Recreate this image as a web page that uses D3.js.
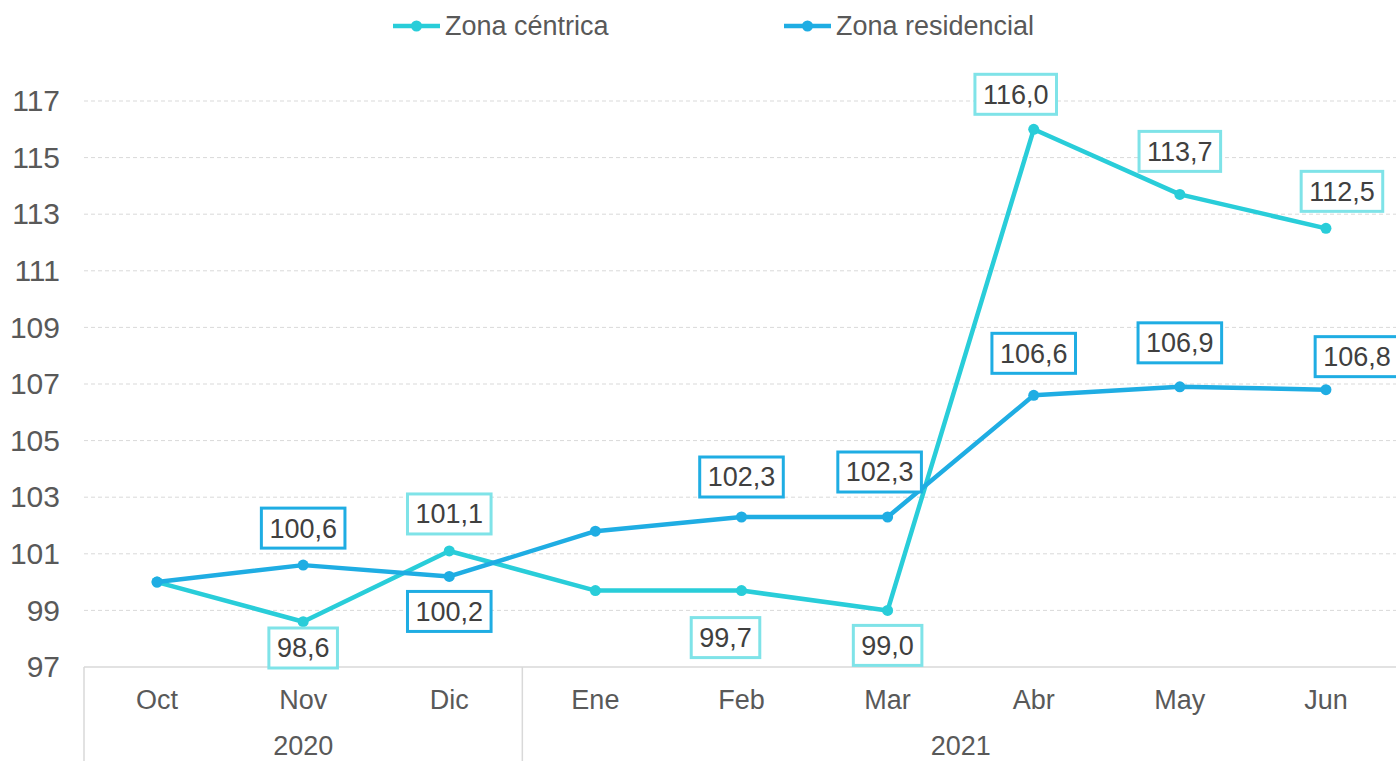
<!DOCTYPE html>
<html lang="es">
<head>
<meta charset="utf-8">
<script src="https://d3js.org/d3.v7.min.js"></script>
<style>
  body { margin: 0; background: #fff; }
  text { font-family: "Liberation Sans", Arial, sans-serif; }
</style>
</head>
<body>
<svg id="chart" width="1396" height="761"></svg>
<script>
// data
const months = ["Oct", "Nov", "Dic", "Ene", "Feb", "Mar", "Abr", "May", "Jun"];
const years = [
  {label: "2020", first: "Oct", last: "Dic"},
  {label: "2021", first: "Ene", last: "Jun"}
];
const centrica    = [100.0, 98.6, 101.1, 99.7, 99.7, 99.0, 116.0, 113.7, 112.5];
const residencial = [100.0, 100.6, 100.2, 101.8, 102.3, 102.3, 106.6, 106.9, 106.8];
// where each value label sits: "a" above, "b" below, null = no label
const centricaPos    = [null, "b", "a", null, "b", "b", "a", "a", "a"];
const residencialPos = [null, "a", "b", null, "a", "a", "a", "a", "a"];
const yTicks = [97, 99, 101, 103, 105, 107, 109, 111, 113, 115, 117];

// hand moved labels (as in the original), [dx, dy]
const nudge = {
  "c-Feb": [-16, 12], "c-Abr": [-18, 2], "c-May": [0, -6], "c-Jun": [16, 0],
  "r-Feb": [0, -3], "r-Mar": [-8, -8], "r-Abr": [0, -5], "r-May": [0, -7], "r-Jun": [31, 4]
};

const series = [
  {key: "c", name: "Zona céntrica", values: centrica, pos: centricaPos, color: "#29cdd9", box: "#7fe3e8"},
  {key: "r", name: "Zona residencial", values: residencial, pos: residencialPos, color: "#1fade3", box: "#1fade3"}
];

const W = 1396, H = 761;
const mLeft = 84, mRight = 1399, mTop = 101, mBottom = 667;

const svg = d3.select("#chart");

const x = d3.scaleBand().domain(months).range([mLeft, mRight]).padding(0);
const y = d3.scaleLinear().domain([97, 117]).range([mBottom, mTop]);
const cx = m => x(m) + x.bandwidth() / 2;

// gridlines
svg.append("g")
  .selectAll("line")
  .data(yTicks.slice(1))
  .join("line")
    .attr("x1", mLeft).attr("x2", W)
    .attr("y1", d => y(d)).attr("y2", d => y(d))
    .attr("stroke", "#d9d9d9")
    .attr("stroke-width", 1)
    .attr("stroke-dasharray", "4,3");

// y axis labels
const yAxis = svg.append("g")
  .attr("transform", `translate(${mLeft},0)`)
  .call(d3.axisLeft(y).tickValues(yTicks).tickSize(0).tickPadding(24));
yAxis.select(".domain").remove();
yAxis.selectAll("text")
  .attr("font-family", "Liberation Sans, Arial, sans-serif")
  .attr("font-size", 30)
  .attr("fill", "#595959");

// x axis with two-level categories
svg.append("line")
  .attr("x1", mLeft).attr("x2", W)
  .attr("y1", mBottom).attr("y2", mBottom)
  .attr("stroke", "#d9d9d9").attr("stroke-width", 1.5);

const seps = [x(years[0].first), x(years[1].first), x(years[1].last) + x.bandwidth()];
svg.append("g").selectAll("line")
  .data(seps)
  .join("line")
    .attr("x1", d => d).attr("x2", d => d)
    .attr("y1", mBottom).attr("y2", H)
    .attr("stroke", "#d9d9d9").attr("stroke-width", 1.5);

svg.append("g").selectAll("text")
  .data(months)
  .join("text")
    .attr("x", d => cx(d))
    .attr("y", 709)
    .attr("text-anchor", "middle")
    .attr("font-size", 27)
    .attr("fill", "#595959")
    .text(d => d);

svg.append("g").selectAll("text")
  .data(years)
  .join("text")
    .attr("x", d => (cx(d.first) + cx(d.last)) / 2)
    .attr("y", 755)
    .attr("text-anchor", "middle")
    .attr("font-size", 27)
    .attr("fill", "#595959")
    .text(d => d.label);

// lines and markers
const line = d3.line()
  .x((d, i) => cx(months[i]))
  .y(d => y(d));

for (const s of series) {
  svg.append("path")
    .datum(s.values)
    .attr("d", line)
    .attr("fill", "none")
    .attr("stroke", s.color)
    .attr("stroke-width", 4.5)
    .attr("stroke-linejoin", "round");
  svg.append("g").selectAll("circle")
    .data(s.values)
    .join("circle")
      .attr("cx", (d, i) => cx(months[i]))
      .attr("cy", d => y(d))
      .attr("r", 5.5)
      .attr("fill", s.color);
}

// value labels
const fmt = v => d3.format(".1f")(v).replace(".", ",");
for (const s of series) {
  s.values.forEach((v, i) => {
    const p = s.pos[i];
    if (!p) return;
    const n = nudge[s.key + "-" + months[i]] || [0, 0];
    let mx = cx(months[i]) + n[0];
    let my = y(v) + (p === "a" ? -37 : 35) + n[1];
    if (my + 20 > mBottom + 1) my = mBottom + 1 - 20;
    const g = svg.append("g").attr("transform", `translate(${mx},${my})`);
    const t = g.append("text")
      .attr("text-anchor", "middle")
      .attr("dy", "0.35em")
      .attr("font-size", 27)
      .attr("fill", "#404040")
      .text(fmt(v));
    const w = t.node().getComputedTextLength() + 16;
    g.insert("rect", "text")
      .attr("x", -w / 2).attr("y", -20)
      .attr("width", w).attr("height", 40)
      .attr("fill", "#fff")
      .attr("stroke", s.box)
      .attr("stroke-width", 3);
  });
}

// legend
const legendX = [393, 784];
series.forEach((s, i) => {
  const g = svg.append("g").attr("transform", `translate(${legendX[i]},26)`);
  g.append("line").attr("x1", 0).attr("x2", 47).attr("y1", 0).attr("y2", 0)
    .attr("stroke", s.color).attr("stroke-width", 4.5);
  g.append("circle").attr("cx", 23.5).attr("cy", 0).attr("r", 5.5).attr("fill", s.color);
  g.append("text").attr("x", 52).attr("dy", "0.35em")
    .attr("font-size", 27).attr("fill", "#595959").text(s.name);
});
</script>
</body>
</html>
